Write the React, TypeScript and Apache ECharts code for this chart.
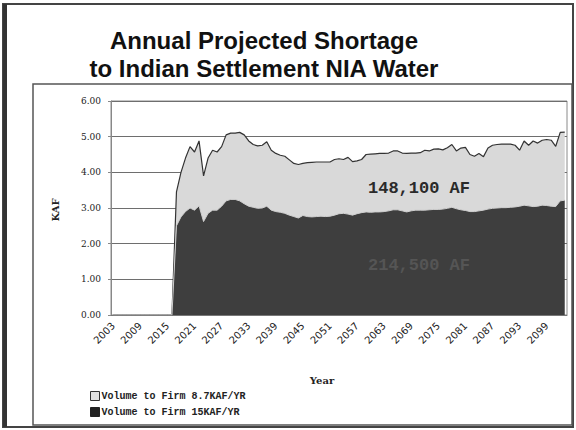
import React, { useEffect, useRef } from "react";
import * as echarts from "echarts";

const years: string[] = [];
for (let y = 2003; y <= 2103; y++) years.push(String(y));

const firm15Values = [
  0, 0, 0, 0, 0, 0, 0, 0, 0, 0, 0, 0, 0, 0,
  2.5, 2.75, 2.9, 3.0, 2.94, 3.06, 2.62, 2.85, 2.94, 2.94,
  3.05, 3.2, 3.24, 3.24, 3.2, 3.12, 3.05, 3.02, 2.99, 3.0,
  3.05, 2.94, 2.9, 2.88, 2.85, 2.8, 2.76, 2.72, 2.79, 2.76,
  2.75, 2.76, 2.77, 2.76, 2.77, 2.8, 2.84, 2.85, 2.83, 2.8,
  2.84, 2.87, 2.89, 2.88, 2.89, 2.89, 2.9, 2.92, 2.95, 2.95,
  2.92, 2.89, 2.92, 2.94, 2.94, 2.94, 2.95, 2.96, 2.96, 2.97,
  2.99, 3.02, 2.98, 2.95, 2.93, 2.9, 2.9, 2.92, 2.94, 2.97,
  2.99, 3.0, 3.01, 3.01, 3.02, 3.03, 3.05, 3.08, 3.06, 3.04,
  3.05, 3.08, 3.07, 3.05, 3.04, 3.2, 3.22,
];

const firm87Values = [
  0, 0, 0, 0, 0, 0, 0, 0, 0, 0, 0, 0, 0, 0,
  0.95, 1.25, 1.5, 1.72, 1.63, 1.82, 1.28, 1.55, 1.68, 1.63,
  1.67, 1.85, 1.86, 1.86, 1.92, 1.93, 1.83, 1.76, 1.75, 1.76,
  1.81, 1.68, 1.63, 1.6, 1.6, 1.55, 1.49, 1.5, 1.46, 1.51,
  1.53, 1.53, 1.52, 1.53, 1.52, 1.56, 1.54, 1.51, 1.59, 1.5,
  1.48, 1.49, 1.61, 1.63, 1.63, 1.64, 1.63, 1.62, 1.65, 1.65,
  1.62, 1.64, 1.62, 1.6, 1.61, 1.68, 1.65, 1.69, 1.7, 1.66,
  1.7, 1.76, 1.62, 1.73, 1.77, 1.6, 1.55, 1.61, 1.5, 1.71,
  1.77, 1.78, 1.78, 1.78, 1.77, 1.73, 1.57, 1.8, 1.7, 1.84,
  1.77, 1.82, 1.85, 1.85, 1.69, 1.92, 1.91,
];

const seriesNames = ["Volume to Firm 8.7KAF/YR", "Volume to Firm 15KAF/YR"];
const titleLines = ["Annual Projected Shortage", "to Indian Settlement NIA Water"];
const annotationTexts = ["148,100 AF", "214,500 AF"];

export default function App() {
  const ref = useRef<HTMLDivElement>(null);
  useEffect(() => {
    if (!ref.current) return;
    const chart = echarts.init(ref.current, null, { renderer: "svg" });
    const titleStyle = {
      fontFamily: "Liberation Sans, Arial, sans-serif",
      fontWeight: "bold",
      fontSize: 24,
      fill: "#111",
      align: "center",
      verticalAlign: "middle",
    };
    chart.setOption({
      animation: false,
      backgroundColor: "#ffffff",
      grid: { left: 111, right: 9, top: 101, bottom: 115, show: true, borderColor: "#8a8a8a", borderWidth: 1, backgroundColor: "transparent" },
      legend: {
        orient: "vertical",
        left: 85,
        top: 386,
        itemWidth: 9,
        itemHeight: 9,
        itemGap: 6,
        textStyle: { fontFamily: "Liberation Mono, monospace", fontWeight: "bold", fontSize: 10, color: "#222", padding: [0, 0, 0, -3] },
        data: [
          { name: seriesNames[0], icon: "rect", itemStyle: { color: "#e2e2e2", borderColor: "#333", borderWidth: 1 } },
          { name: seriesNames[1], icon: "rect", itemStyle: { color: "#222", borderColor: "#222", borderWidth: 1 } },
        ],
      },
      xAxis: {
        type: "category",
        data: years,
        boundaryGap: true,
        axisLine: { lineStyle: { color: "#777", width: 1 } },
        axisTick: { interval: 0, length: 3, lineStyle: { color: "#999" } },
        axisLabel: {
          interval: 5,
          rotate: 45,
          margin: 9,
          fontFamily: "DejaVu Sans, sans-serif",
          fontSize: 10,
          color: "#222",
        },
      },
      yAxis: {
        type: "value",
        min: 0,
        max: 6,
        interval: 1,
        axisLine: { show: true, lineStyle: { color: "#888" } },
        axisTick: { show: true, length: 3, lineStyle: { color: "#888" } },
        axisLabel: {
          margin: 10,
          fontFamily: "DejaVu Serif, serif",
          fontSize: 9,
          color: "#222",
          formatter: (v: number) => v.toFixed(2),
        },
        splitLine: { show: true, lineStyle: { color: "#6e6e6e", width: 1 } },
      },
      series: [
        {
          name: seriesNames[1],
          type: "line",
          stack: "total",
          data: firm15Values,
          symbol: "none",
          lineStyle: { color: "#cfcfcf", width: 1 },
          areaStyle: { color: "#3e3e3e", opacity: 1 },
          itemStyle: { color: "#222" },
          z: 3,
        },
        {
          name: seriesNames[0],
          type: "line",
          stack: "total",
          data: firm87Values,
          symbol: "none",
          lineStyle: { color: "#333", width: 1.2 },
          areaStyle: { color: "#d9d9d9", opacity: 1 },
          itemStyle: { color: "#e2e2e2" },
          z: 2,
        },
      ],
      graphic: [
        { type: "rect", shape: { x: 3, y: 4, width: 570, height: 423 }, style: { fill: "none", stroke: "#444", lineWidth: 2 }, silent: true },
        { type: "line", shape: { x1: 5, y1: 4, x2: 5, y2: 427 }, style: { stroke: "#333", lineWidth: 4 }, silent: true },
        { type: "rect", shape: { x: 33, y: 84, width: 539, height: 341 }, style: { fill: "none", stroke: "#555", lineWidth: 1.5 }, silent: true },
        { type: "text", x: 264, y: 40, style: { ...titleStyle, text: titleLines[0] } },
        { type: "text", x: 264, y: 68, style: { ...titleStyle, text: titleLines[1] } },
        {
          type: "text", x: 55, y: 210, rotation: Math.PI / 2,
          style: { text: "KAF", fontFamily: "DejaVu Serif, serif", fontWeight: "bold", fontSize: 10, fill: "#222", align: "center", verticalAlign: "middle" },
        },
        {
          type: "text", x: 322, y: 380,
          style: { text: "Year", fontFamily: "DejaVu Serif, serif", fontWeight: "bold", fontSize: 10, fill: "#222", align: "center", verticalAlign: "middle" },
        },
        {
          type: "text", x: 419, y: 188, z: 10,
          style: { text: annotationTexts[0], fontFamily: "Liberation Mono, monospace", fontWeight: "bold", fontSize: 17, fill: "#2a2a2a", align: "center", verticalAlign: "middle" },
        },
        {
          type: "text", x: 419, y: 265, z: 10,
          style: { text: annotationTexts[1], fontFamily: "Liberation Mono, monospace", fontWeight: "bold", fontSize: 17, fill: "#555", align: "center", verticalAlign: "middle" },
        },
      ],
    });
    return () => chart.dispose();
  }, []);
  return <div ref={ref} style={{ position: "absolute", left: 0, top: 0, width: 576, height: 430 }} />;
}
